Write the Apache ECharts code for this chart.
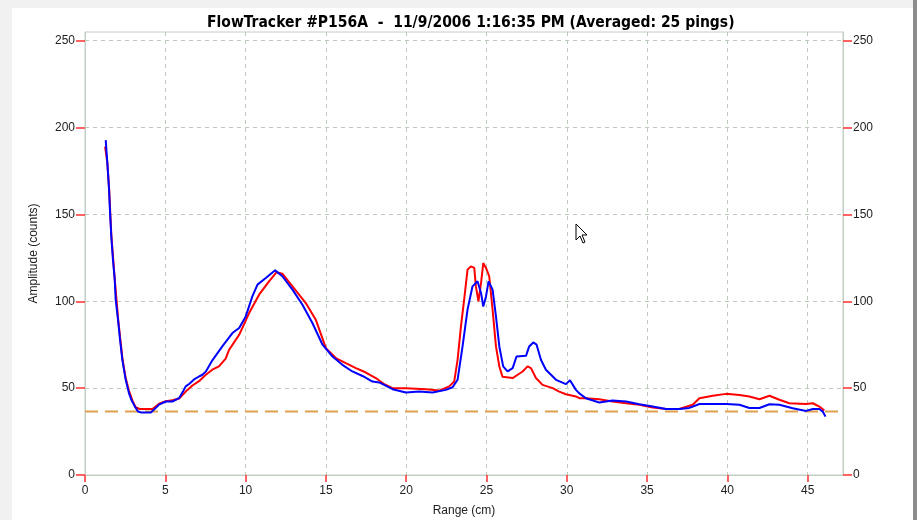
<!DOCTYPE html>
<html>
<head>
<meta charset="utf-8">
<script src="https://cdn.jsdelivr.net/npm/echarts@6/dist/echarts.min.js"></script>
<style>
html,body{margin:0;padding:0;background:#f1f1f1;}
#chart{width:917px;height:520px;}
</style>
</head>
<body>
<div id="chart"></div>
<script>
// ---- data ----
var titleText = 'FlowTracker #P156A  -  11/9/2006 1:16:35 PM (Averaged: 25 pings)';
var xAxisName = 'Range (cm)';
var yAxisName = 'Amplitude (counts)';
var yTicks = [0, 50, 100, 150, 200, 250];
var xTicks = [0, 5, 10, 15, 20, 25, 30, 35, 40, 45];
var xMax = 47.2;
var yMax = 255;
var noiseLevel = 36.5;

var rangeBlue = [1.29,1.39,1.5,1.56,1.64,1.74,1.85,1.91,2.06,2.18,2.33,2.53,2.74,2.9,3.1,3.3,3.5,4.1,4.4,4.61,5.03,5.44,5.86,6.1,6.27,6.5,6.79,7.1,7.31,7.52,7.93,8.55,9.18,9.6,10.01,10.42,10.74,11.26,11.84,12.29,12.92,13.54,14.16,14.79,15.41,16.03,16.65,17.28,17.9,18.32,19.15,19.98,20.81,21.64,22.47,22.89,23.2,23.51,23.82,24.13,24.44,24.66,24.8,24.97,25.13,25.38,25.59,25.8,26.04,26.31,26.63,26.87,27.46,27.66,27.91,28.12,28.39,28.7,29.33,29.95,30.2,30.57,30.78,31.19,32.02,32.85,33.69,34.52,35.35,36.18,37.0,37.63,38.26,39.09,39.92,40.75,41.37,42.0,42.62,43.24,44.07,44.9,45.32,45.73,45.94,46.11];
var ampBlue = [192.8,179.8,164,151,137,124,112.5,101,89,78,66,55,47,43,39.5,36.5,36,36,38.5,40.5,42.3,42.3,44.2,48,51,52.5,55,56.7,57.7,59.5,66,74,81.7,84.6,91.3,102.8,109.6,113.4,117.8,114.4,106.7,98,87.5,75,68.2,63.4,59.6,57,53.8,53.3,49.4,47.5,48,47.5,49,50.5,54.8,74,95.2,108.6,111.5,104.8,97,102.8,111.5,106.7,91.3,74,62.5,59.6,61.5,68.2,68.6,74,76.3,75,66.3,60.6,54.8,52.3,54.5,49,47,44.2,41.7,42.9,42.3,40.7,39.4,38,38,38.6,40.9,40.9,40.9,40.4,38.6,38.6,40.7,40.4,38.4,36.9,38,38,36.5,33.6];

var rangeRed = [1.25,1.39,1.5,1.64,1.85,2.06,2.33,2.53,2.74,2.95,3.15,3.4,4.2,4.61,5.03,5.44,5.86,6.27,6.69,7.1,7.52,7.93,8.34,8.76,8.97,9.6,10.22,10.84,11.46,11.92,12.29,12.92,13.75,14.37,15.0,15.62,16.24,16.87,17.49,18.11,18.6,19.15,19.98,21.23,22.06,22.68,22.99,23.2,23.41,23.61,23.82,24.03,24.24,24.34,24.5,24.66,24.8,24.97,25.17,25.38,25.59,25.8,26.0,26.63,26.94,27.25,27.56,27.77,28.08,28.49,29.12,29.53,29.95,30.57,30.78,31.19,32.02,32.85,33.69,34.52,35.35,36.18,37.0,37.84,38.26,39.09,39.92,40.75,41.37,42.0,42.62,43.24,43.86,44.9,45.32,45.73,46.04];
var ampRed = [189,180,165,138,113,90,67,56,48.5,43,39,38,38,41,42.5,43,44,48,51.5,54,57.7,60.6,62.5,67,72,80.7,93.2,103.8,111.5,116.7,115.9,108.6,99,89.4,73,67.3,64.4,61.5,59,55.8,52.5,50,50,49.4,48.6,51,53.8,66.3,85.5,101,118.2,120.1,119.2,108.6,100,110.5,122,119.2,114.4,95.2,74,62.5,56.5,55.8,57.7,59.6,62.5,61.5,55.8,51.9,50,48,46.5,45.2,44.2,44.2,43.6,42.3,41.3,40.4,38.8,38,38,40.4,44.2,45.6,46.7,46,45.2,43.6,45.6,43.3,41.3,40.9,41.3,39.4,37.1];

function pairs(xs, ys){ return xs.map(function(x,i){ return [x, ys[i]]; }); }

var chart = echarts.init(document.getElementById('chart'), null, {renderer:'canvas'});
var labelFont = "'Liberation Sans', Arial, sans-serif";
var gridCol = '#bccabc';
var borderCol = '#c3cec3';
var tickCol = '#ff3030';

function yAxisCfg(pos){
  return {
    type:'value', position:pos, min:0, max:yMax, interval:50,
    name: pos==='left' ? yAxisName : '',
    nameLocation:'middle', nameGap:45,
    nameTextStyle:{fontFamily:labelFont, fontSize:12, color:'#222'},
    axisLine:{show:true, lineStyle:{color:borderCol, width:1}},
    axisTick:{show:true, length:9, lineStyle:{color:tickCol, width:1.5},
      customValues: yTicks},
    axisLabel:{margin:10, fontFamily:labelFont, fontSize:12, color:'#222',
      customValues: yTicks},
    splitLine:{show: pos==='left', lineStyle:{color:gridCol, type:[4,4], width:1}}
  };
}

chart.setOption({
  animation:false,
  backgroundColor:'transparent',
  graphic:[
    {type:'rect', shape:{x:12,y:8,width:901,height:512}, style:{fill:'#ffffff'}, z:-10, silent:true},
    {type:'rect', shape:{x:913,y:0,width:4,height:520}, style:{fill:'#8c8c8c'}, z:-10, silent:true},
    {type:'polygon', z:100, silent:true,
      shape:{points:[[576,224],[576,240],[580,236],[583,243],[585,242],[582,235],[587,235]]},
      style:{fill:'#ffffff', stroke:'#000000', lineWidth:1}}
  ],
  title:{
    text:titleText, left:202, top:10,
    textStyle:{fontFamily:"'Liberation Sans Narrow', 'DejaVu Sans Condensed', sans-serif", fontWeight:'bold', fontSize:15.5, color:'#000'}
  },
  grid:{left:85, right:74, top:32, bottom:45, show:true, borderColor:borderCol, borderWidth:1, backgroundColor:'#ffffff', outerBoundsMode:'none'},
  xAxis:{
    type:'value', min:0, max:xMax, interval:5,
    name:xAxisName, nameLocation:'middle', nameGap:30,
    nameTextStyle:{fontFamily:labelFont, fontSize:12, color:'#222'},
    axisLine:{show:true, onZero:false, lineStyle:{color:borderCol}},
    axisTick:{show:true, length:7, lineStyle:{color:tickCol, width:1.5}, customValues:xTicks},
    axisLabel:{margin:10, fontFamily:labelFont, fontSize:12, color:'#222', customValues:xTicks},
    splitLine:{show:true, lineStyle:{color:gridCol, type:[4,4], width:1}}
  },
  yAxis:[yAxisCfg('left'), yAxisCfg('right')],
  series:[
    {type:'line', name:'noise', data:[[0,noiseLevel],[xMax,noiseLevel]], symbol:'none',
     lineStyle:{color:'#dea04e', width:2, type:[13,7]}, silent:true, z:2},
    {type:'line', name:'red', data:pairs(rangeRed, ampRed), symbol:'none',
     lineStyle:{color:'#ff0000', width:2}, z:3},
    {type:'line', name:'blue', data:pairs(rangeBlue, ampBlue), symbol:'none',
     lineStyle:{color:'#0000ff', width:2}, z:4}
  ]
});
</script>
</body>
</html>
